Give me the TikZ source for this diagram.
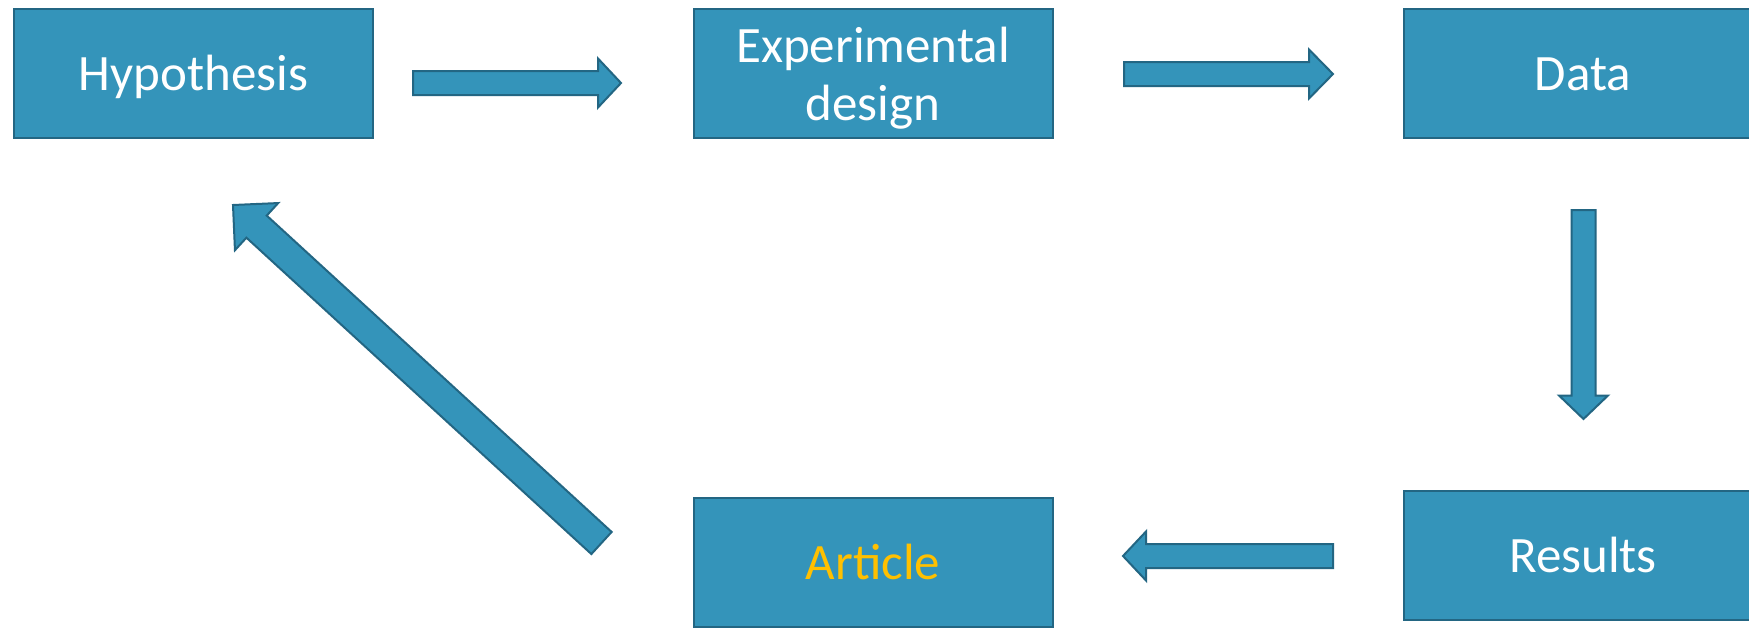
\documentclass[tikz,border=0pt]{standalone}
\usepackage{fontspec}
\setmainfont{Carlito}
\usetikzlibrary{calc}
\definecolor{boxfill}{HTML}{3494BA}
\definecolor{boxline}{RGB}{35,102,131}
\definecolor{gold}{HTML}{FFC000}
\tikzset{
  box/.style={draw=boxline, fill=boxfill, line width=2pt, minimum width=359pt, minimum height=129pt,
    inner sep=0pt, text=white, align=center, font=\fontsize{51}{58}\selectfont},
  oneline/.style={text height=45pt, text depth=12pt},
  barrowstyle/.style={draw=boxline, fill=boxfill, line width=2pt, line join=miter}
}
% #1 start, #2 end, #3 shaft half-width, #4 head half-width, #5 head length, #6 helper name
\newcommand\blockarrow[6]{%
  \coordinate (#6) at ($(#2)!#5!(#1)$);
  \draw[barrowstyle] ($(#1)!#3!90:(#2)$) -- ($(#6)!#3!90:(#2)$) -- ($(#6)!#4!90:(#2)$) -- (#2)
    -- ($(#6)!#4!-90:(#2)$) -- ($(#6)!#3!-90:(#2)$) -- ($(#1)!#3!-90:(#2)$) -- cycle;
}
\begin{document}
\begin{tikzpicture}[x=1pt,y=-1pt]
\clip (0,0) rectangle (1749,627);
\fill[white] (0,0) rectangle (1749,627);
\node[box, oneline] (hyp) at (193.5,73.5) {Hypothesis};
\node[box, text height=105pt, text depth=12pt] (exp) at (873,73.5) {Experimental\\design};
\node[box, oneline] (data) at (1583,73.5) {Data};
\node[box, oneline] (res) at (1583,555.5) {Results};
\node[box, oneline, text=gold] (art) at (873,562.5) {Article};
\coordinate (a1s) at (413,83);
\coordinate (a1e) at (621,83);
\coordinate (a2s) at (1124,74);
\coordinate (a2e) at (1333,74);
\coordinate (a3s) at (1583.5,210);
\coordinate (a3e) at (1583.5,419);
\coordinate (a4s) at (1333,556);
\coordinate (a4e) at (1123,556);
\coordinate (a5s) at (601.5,543);
\coordinate (a5e) at (233,205);
\blockarrow{a1s}{a1e}{12pt}{24.5pt}{23pt}{a1h}
\blockarrow{a2s}{a2e}{12pt}{24.5pt}{24pt}{a2h}
\blockarrow{a3s}{a3e}{12pt}{24.5pt}{23.5pt}{a3h}
\blockarrow{a4s}{a4e}{12pt}{24.5pt}{23pt}{a4h}
\blockarrow{a5s}{a5e}{15pt}{32pt}{32pt}{a5h}
\end{tikzpicture}
\end{document}
